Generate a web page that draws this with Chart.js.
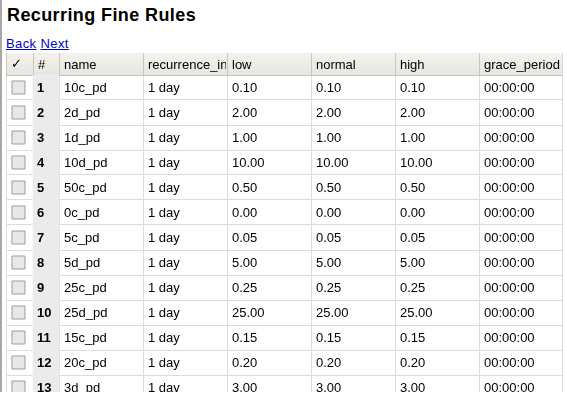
<!DOCTYPE html>
<html>
<head>
<meta charset="utf-8">
<script src="https://cdn.jsdelivr.net/npm/chart.js@4.4.0/dist/chart.umd.min.js"></script>
<style>
  body { margin: 0; background: #fff; font-family: "Liberation Sans", Arial, sans-serif; }
  #page { position: relative; width: 567px; height: 403px; overflow: hidden; }
  #leftbar { position: absolute; left: 0; top: 0; width: 2px; height: 392px; background: #a8a8a8; }
  h1 { position: absolute; left: 7px; top: 5px; margin: 0; font-size: 18px; line-height: 20px; letter-spacing: 0.4px; font-weight: bold; color: #000; }
  #links { position: absolute; left: 6px; top: 36px; font-size: 13px; line-height: 15px; letter-spacing: 0.4px; }
  #links a { color: #0000cc; }
  #wrap { position: absolute; left: 0; top: 53px; width: 567px; height: 339px; }
</style>
</head>
<body>
<div id="page">
  <div id="leftbar"></div>
  <h1>Recurring Fine Rules</h1>
  <div id="links"><a href="#">Back</a> <a href="#">Next</a></div>
  <div id="wrap"><canvas id="table"></canvas></div>
</div>
<script>
// table contents
const columnHeaders = ['✓', '#', 'name', 'recurrence_interval', 'low', 'normal', 'high', 'grace_period'];
const rowNumbers = [1, 2, 3, 4, 5, 6, 7, 8, 9, 10, 11, 12, 13];
const ruleNames = ['10c_pd', '2d_pd', '1d_pd', '10d_pd', '50c_pd', '0c_pd', '5c_pd', '5d_pd', '25c_pd', '25d_pd', '15c_pd', '20c_pd', '3d_pd'];
const recurrenceIntervals = ['1 day', '1 day', '1 day', '1 day', '1 day', '1 day', '1 day', '1 day', '1 day', '1 day', '1 day', '1 day', '1 day'];
const lowFines = [0.10, 2.00, 1.00, 10.00, 0.50, 0.00, 0.05, 5.00, 0.25, 25.00, 0.15, 0.20, 3.00];
const normalFines = [0.10, 2.00, 1.00, 10.00, 0.50, 0.00, 0.05, 5.00, 0.25, 25.00, 0.15, 0.20, 3.00];
const highFines = [0.10, 2.00, 1.00, 10.00, 0.50, 0.00, 0.05, 5.00, 0.25, 25.00, 0.15, 0.20, 3.00];
const gracePeriods = ['00:00:00', '00:00:00', '00:00:00', '00:00:00', '00:00:00', '00:00:00', '00:00:00', '00:00:00', '00:00:00', '00:00:00', '00:00:00', '00:00:00', '00:00:00'];

// layout: column widths in scale units, header height in row units
const colWidths = [27, 26, 84, 84, 84, 84, 84, 83];
const headerHeight = 0.88;
const rowsShown = 12.68;

const colEdges = [0];
colWidths.forEach(w => colEdges.push(colEdges[colEdges.length - 1] + w));

const font = '"Liberation Sans", Arial, sans-serif';
const lineColor = '#dcdcdc';
const headerLine = '#c5c2b6';

function cellText(col, i) {
  if (col === 1) return String(rowNumbers[i]);
  if (col === 2) return ruleNames[i];
  if (col === 3) return recurrenceIntervals[i];
  if (col === 4) return lowFines[i].toFixed(2);
  if (col === 5) return normalFines[i].toFixed(2);
  if (col === 6) return highFines[i].toFixed(2);
  if (col === 7) return gracePeriods[i];
  return '';
}

const tablePlugin = {
  id: 'tablePlugin',
  beforeDatasetsDraw(chart) {
    const x = chart.scales.x, y = chart.scales.y, ctx = chart.ctx;
    const top = y.getPixelForValue(-headerHeight), bottom = y.getPixelForValue(0);
    const g = ctx.createLinearGradient(0, top, 0, bottom);
    g.addColorStop(0, '#f3f2ee');
    g.addColorStop(1, '#e7e5de');
    ctx.save();
    ctx.fillStyle = g;
    ctx.fillRect(x.getPixelForValue(0), top, x.getPixelForValue(colEdges[colEdges.length - 1]) - x.getPixelForValue(0), bottom - top);
    ctx.restore();
  },
  afterDraw(chart) {
    const x = chart.scales.x, y = chart.scales.y, ctx = chart.ctx, area = chart.chartArea;
    ctx.save();
    ctx.beginPath();
    ctx.rect(area.left, area.top, area.right - area.left, area.bottom - area.top);
    ctx.clip();
    ctx.textBaseline = 'middle';
    ctx.fillStyle = '#000';

    // header: darker column separators, then labels
    const htop = y.getPixelForValue(-headerHeight), hbot = y.getPixelForValue(0);
    const hy = (htop + hbot) / 2;
    ctx.strokeStyle = '#c9c6b9';
    ctx.lineWidth = 1;
    colEdges.forEach(v => {
      const px = Math.round(x.getPixelForValue(v)) + 0.5;
      ctx.beginPath();
      ctx.moveTo(px, htop);
      ctx.lineTo(px, hbot);
      ctx.stroke();
    });
    columnHeaders.forEach((h, c) => {
      const x0 = x.getPixelForValue(colEdges[c]), x1 = x.getPixelForValue(colEdges[c + 1]);
      ctx.save();
      ctx.beginPath();
      ctx.rect(x0, hy - 12, x1 - x0 - 1, 24);
      ctx.clip();
      ctx.font = c === 0 ? '13px "DejaVu Sans"' : '13px ' + font;
      ctx.fillText(h, x0 + 5, hy + 1);
      ctx.restore();
    });

    // body cells
    rowNumbers.forEach((n, i) => {
      const cy = y.getPixelForValue(i + 0.5);
      for (let c = 1; c < columnHeaders.length; c++) {
        const x0 = x.getPixelForValue(colEdges[c]), x1 = x.getPixelForValue(colEdges[c + 1]);
        ctx.save();
        ctx.beginPath();
        ctx.rect(x0, cy - 13, x1 - x0 - 1, 26);
        ctx.clip();
        ctx.font = (c === 1 ? 'bold ' : '') + '13px ' + font;
        ctx.fillText(cellText(c, i), x0 + (c === 1 ? 4 : 5), cy + 1);
        ctx.restore();
      }
    });
    ctx.restore();
  }
};

const ctx = document.getElementById('table').getContext('2d');
const table = new Chart(ctx, {
  type: 'bar',
  data: {
    datasets: [{
      // shaded # column
      type: 'bar',
      data: rowNumbers.map((n, i) => ({ x: [colEdges[1], colEdges[2]], y: i + 0.5 })),
      backgroundColor: '#ebebeb',
      barThickness: 'flex',
      categoryPercentage: 1,
      barPercentage: 1,
      borderWidth: 0
    }, {
      // check boxes
      type: 'line',
      data: rowNumbers.map((n, i) => ({ x: (colEdges[0] + colEdges[1]) / 2 - 1, y: i + 0.5 })),
      showLine: false,
      pointStyle: 'rect',
      pointRadius: 9.2,
      pointBackgroundColor: '#e8e8e8',
      pointBorderColor: '#9c9c9c',
      pointBorderWidth: 1
    }]
  },
  options: {
    indexAxis: 'y',
    responsive: true,
    maintainAspectRatio: false,
    animation: false,
    events: [],
    layout: { autoPadding: false, padding: { left: 6, right: 5, top: 0, bottom: 0 } },
    plugins: {
      legend: { display: false },
      tooltip: { enabled: false }
    },
    scales: {
      x: {
        type: 'linear',
        position: 'top',
        min: 0,
        max: colEdges[colEdges.length - 1],
        offset: false,
        z: 1,
        afterBuildTicks: s => { s.ticks = colEdges.map(v => ({ value: v })); },
        afterFit: s => { s.height = 0; },
        ticks: { display: false },
        grid: { color: lineColor, drawTicks: false, offset: false },
        border: { display: false }
      },
      y: {
        type: 'linear',
        reverse: true,
        min: -headerHeight,
        max: rowsShown,
        offset: false,
        z: 1,
        afterBuildTicks: s => { s.ticks = [-headerHeight].concat(rowNumbers.map((n, i) => i)).map(v => ({ value: v })); },
        afterFit: s => { s.width = 0; },
        ticks: { display: false },
        grid: { color: c => (c.tick && c.tick.value === 0 ? headerLine : lineColor), drawTicks: false, offset: false },
        border: { display: false }
      }
    }
  },
  plugins: [tablePlugin]
});
</script>
</body>
</html>
